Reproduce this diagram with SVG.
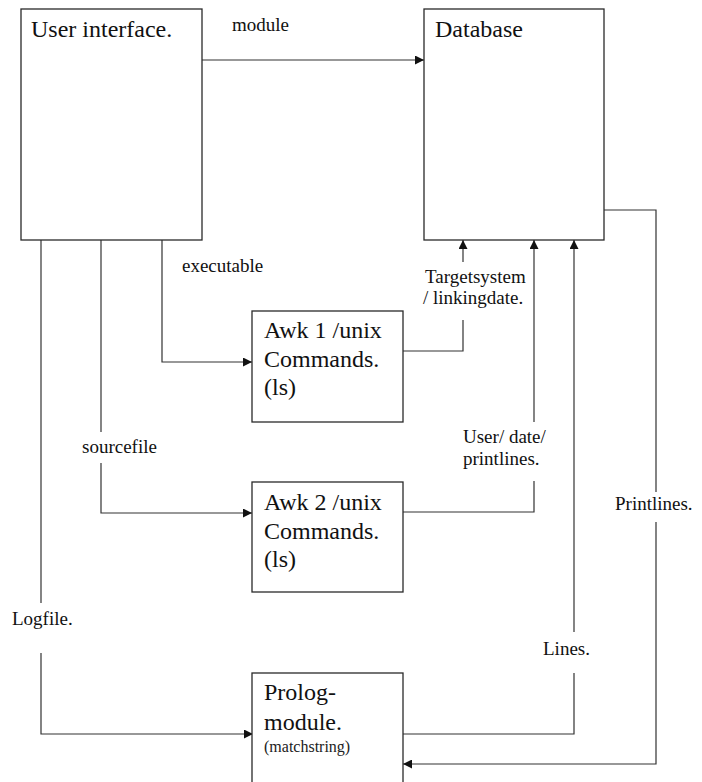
<svg xmlns="http://www.w3.org/2000/svg" width="702" height="782" viewBox="0 0 702 782">
  <style>
    .box { fill: #fff; stroke: #2a2a2a; stroke-width: 1.3; }
    .title { font-size: 24px; fill: #111; }
    .small { font-size: 16px; fill: #222; }
    .lbl { font-size: 19px; fill: #111; }
    .wire { fill: none; stroke: #333; stroke-width: 1.2; }
  </style>
  <defs>
    <marker id="arrow" viewBox="0 0 10 10" refX="10" refY="5" markerWidth="9" markerHeight="9" markerUnits="userSpaceOnUse" orient="auto">
      <path d="M0,0 L10,5 L0,10 z" fill="#111"/>
    </marker>
  </defs>
  <rect width="702" height="782" fill="#fff"/>

  <g font-family="'Liberation Serif', 'DejaVu Serif', 'Times New Roman', serif">
  <!-- connectors -->
  <g id="connectors">
    <!-- module -->
    <path class="wire" d="M202,60 H424" marker-end="url(#arrow)"/>
    <!-- executable -->
    <path class="wire" d="M162,240 V362 H252" marker-end="url(#arrow)"/>
    <!-- sourcefile -->
    <path class="wire" d="M101,240 V432"/>
    <path class="wire" d="M101,463 V513 H252" marker-end="url(#arrow)"/>
    <!-- Logfile -->
    <path class="wire" d="M41,240 V603"/>
    <path class="wire" d="M41,653 V734 H253" marker-end="url(#arrow)"/>
    <!-- Targetsystem / linkingdate -->
    <path class="wire" d="M403,351 H463 V320"/>
    <path class="wire" d="M463,262 V240" marker-end="url(#arrow)"/>
    <!-- User/ date/ printlines -->
    <path class="wire" d="M403,512 H534 V481"/>
    <path class="wire" d="M534,422 V240" marker-end="url(#arrow)"/>
    <!-- Lines -->
    <path class="wire" d="M403,734 H574 V673"/>
    <path class="wire" d="M574,632 V240" marker-end="url(#arrow)"/>
    <!-- Printlines -->
    <path class="wire" d="M604,210 H656 V492"/>
    <path class="wire" d="M656,522 V764 H403" marker-end="url(#arrow)"/>

    <text class="lbl" x="232" y="31">module</text>
    <text class="lbl" x="182" y="272">executable</text>
    <text class="lbl" x="425" y="283">Targetsystem</text>
    <text class="lbl" x="423" y="304">/ linkingdate.</text>
    <text class="lbl" x="82" y="453">sourcefile</text>
    <text class="lbl" x="463" y="443">User/ date/</text>
    <text class="lbl" x="463" y="465">printlines.</text>
    <text class="lbl" x="12" y="625">Logfile.</text>
    <text class="lbl" x="543" y="655">Lines.</text>
    <text class="lbl" x="615" y="510">Printlines.</text>
  </g>

  <g id="user-interface">
    <rect class="box" x="21" y="9" width="181" height="231"/>
    <text class="title" x="31" y="37">User interface.</text>
  </g>

  <g id="database">
    <rect class="box" x="424" y="9" width="180" height="231"/>
    <text class="title" x="435" y="37">Database</text>
  </g>

  <g id="awk1">
    <rect class="box" x="252" y="311" width="151" height="111"/>
    <text class="title" x="264" y="338">Awk 1 /unix</text>
    <text class="title" x="264" y="367">Commands.</text>
    <text class="title" x="264" y="395">(ls)</text>
  </g>

  <g id="awk2">
    <rect class="box" x="252" y="482" width="151" height="110"/>
    <text class="title" x="264" y="510">Awk 2 /unix</text>
    <text class="title" x="264" y="539">Commands.</text>
    <text class="title" x="264" y="567">(ls)</text>
  </g>

  <g id="prolog">
    <rect class="box" x="252" y="673" width="151" height="120"/>
    <text class="title" x="264" y="700">Prolog-</text>
    <text class="title" x="264" y="730">module.</text>
    <text class="small" x="264" y="752">(matchstring)</text>
  </g>
  </g>
</svg>
